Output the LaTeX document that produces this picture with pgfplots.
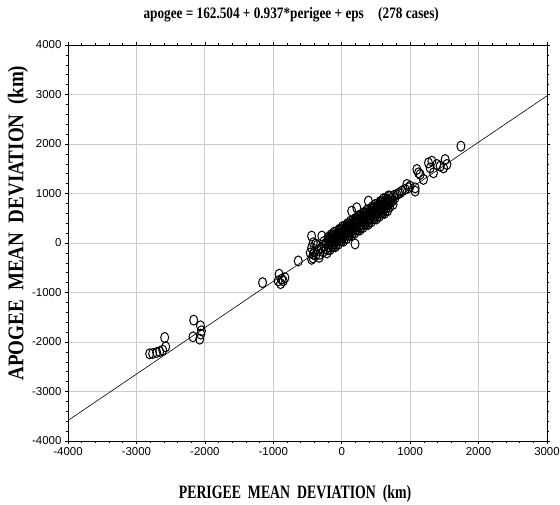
\documentclass[border=0pt]{standalone}
\usepackage{fontspec}
\setmainfont{Liberation Serif}
\newfontfamily\tickfont{Liberation Sans}
\newfontfamily\titlefont[FakeStretch=0.83]{Liberation Serif}
\newfontfamily\xlabfont[FakeStretch=0.73]{Liberation Serif}
\newfontfamily\ylabfont[FakeStretch=0.85]{Liberation Serif}
\usepackage{pgfplots}
\pgfplotsset{compat=1.18}
\pgfplotstableread{
x y
-440 140
-290 140
-416 6
-439 -95
-416 -228
-439 -329
-318 -228
-380 -250
-350 -150
-400 -180
-360 -50
-330 -290
-300 -100
-270 -180
-250 -60
-230 -120
-460 -200
-420 -300
-380 -20
-260 30
-230 0
-215 -200
-200 -135
-200 -5
-200 115
-185 -71
-185 49
-185 89
-170 -137
-170 -17
-170 83
-155 -13
-155 57
-155 167
-140 -59
-140 31
-140 151
-125 -75
-125 95
-125 135
-110 -11
-110 89
-110 219
-95 -77
-95 33
-95 133
-80 -23
-80 107
-80 227
-65 41
-65 161
-65 201
-50 -25
-50 95
-50 195
-35 99
-35 169
-35 279
-20 53
-20 143
-20 263
-5 37
-5 207
-5 247
10 101
10 201
10 331
25 35
25 145
25 245
40 89
40 219
40 339
55 154
55 274
55 314
70 88
70 208
70 308
85 212
85 282
85 392
100 166
100 256
100 376
115 150
115 320
115 360
130 214
130 314
130 444
145 148
145 258
145 358
160 202
160 332
160 452
175 266
175 386
175 426
190 200
190 320
190 420
205 324
205 394
205 504
220 278
220 368
220 488
235 262
235 432
235 472
250 326
250 426
250 556
265 260
265 370
265 470
280 314
280 444
280 564
295 378
295 498
295 538
310 312
310 432
310 532
325 437
325 507
325 617
340 391
340 481
340 601
355 375
355 545
355 585
370 439
370 539
370 669
385 373
385 483
385 583
400 427
400 557
400 677
415 491
415 611
415 651
430 425
430 545
430 645
445 549
445 619
445 729
460 503
460 593
460 713
475 487
475 657
475 697
490 551
490 651
490 781
505 485
505 595
505 695
520 539
520 669
520 789
535 603
535 723
535 763
550 537
550 657
550 757
565 661
565 731
565 841
580 615
580 705
580 825
595 600
595 770
595 810
610 664
610 764
610 894
625 598
625 708
625 808
640 652
640 782
640 902
655 716
655 836
655 876
670 650
670 770
670 870
685 774
685 844
685 954
700 728
700 818
700 938
720 900
740 850
760 960
780 913
805 981
830 1000
854 1014
880 1050
750 780
715 820
146 645
220 712
390 847
195 -20
1098 1486
1122 1418
1146 1385
1195 1284
1268 1619
1293 1518
1341 1418
1318 1653
1391 1587
1439 1552
1512 1687
1537 1587
1488 1518
952 1183
975 1115
927 1082
1000 1149
1073 1115
1073 1048
1742 1956
-2807 -2238
-2763 -2232
-2704 -2212
-2660 -2192
-2616 -2163
-2572 -2097
-2587 -1909
-2163 -1558
-2064 -1673
-2050 -1774
-2173 -1895
-2075 -1942
-2060 -1841
-1157 -800
-914 -631
-878 -732
-855 -766
-830 -700
-928 -766
-893 -821
-635 -363
}\pts
\begin{document}
\begin{tikzpicture}
\begin{axis}[
  scale only axis, width=479bp, height=396bp,
  xmin=-4000, xmax=3000, ymin=-4000, ymax=4000,
  xtick={-4000,-3000,...,3000}, ytick={-4000,-3000,...,4000},
  minor tick num=4,
  tick align=outside, major tick length=3bp, minor tick length=2bp,
  grid=major, major grid style={black!20, line width=0.8pt},
  axis line style={line width=0.8pt},
  every tick/.style={black, line width=0.6pt},
  ticklabel style={font=\tickfont\fontsize{11.5}{13}\selectfont},
  /pgf/number format/assume math mode=true,
  /pgf/number format/1000 sep={},
  title={apogee = 162.504 + 0.937*perigee + eps\hspace{0.9em}(278 cases)},
  title style={at={(rel axis cs:0.466,1)}, anchor=base, yshift=21bp, inner sep=0pt,
    font=\titlefont\bfseries\fontsize{16}{18}\selectfont},
  xlabel={PERIGEE\ \ MEAN\ \ DEVIATION\ \ (km)},
  xlabel style={at={(rel axis cs:0.474,0)}, anchor=base, yshift=-57bp, inner sep=0pt,
    font=\xlabfont\bfseries\fontsize{19}{21}\selectfont},
  ylabel={APOGEE\ \ MEAN\ \ DEVIATION\ \ (km)},
  ylabel style={at={(rel axis cs:0,0.55)}, anchor=center, yshift=50bp, inner sep=0pt,
    font=\ylabfont\bfseries\fontsize{22.5}{24}\selectfont},
]
\addplot[black, line width=0.6pt] coordinates {(-4000,-3585.496) (3000,2973.504)};
\addplot[only marks, mark=o, mark size=5bp, black,
  mark options={xscale=0.8, line width=1pt}] table[x=x, y=y] {\pts};
\coordinate (bl) at (rel axis cs:0,0);
\end{axis}
\pgfresetboundingbox
\path[use as bounding box] ([shift={(-68bp,-64bp)}]bl) rectangle ([shift={(492bp,441bp)}]bl);
\end{tikzpicture}
\end{document}
